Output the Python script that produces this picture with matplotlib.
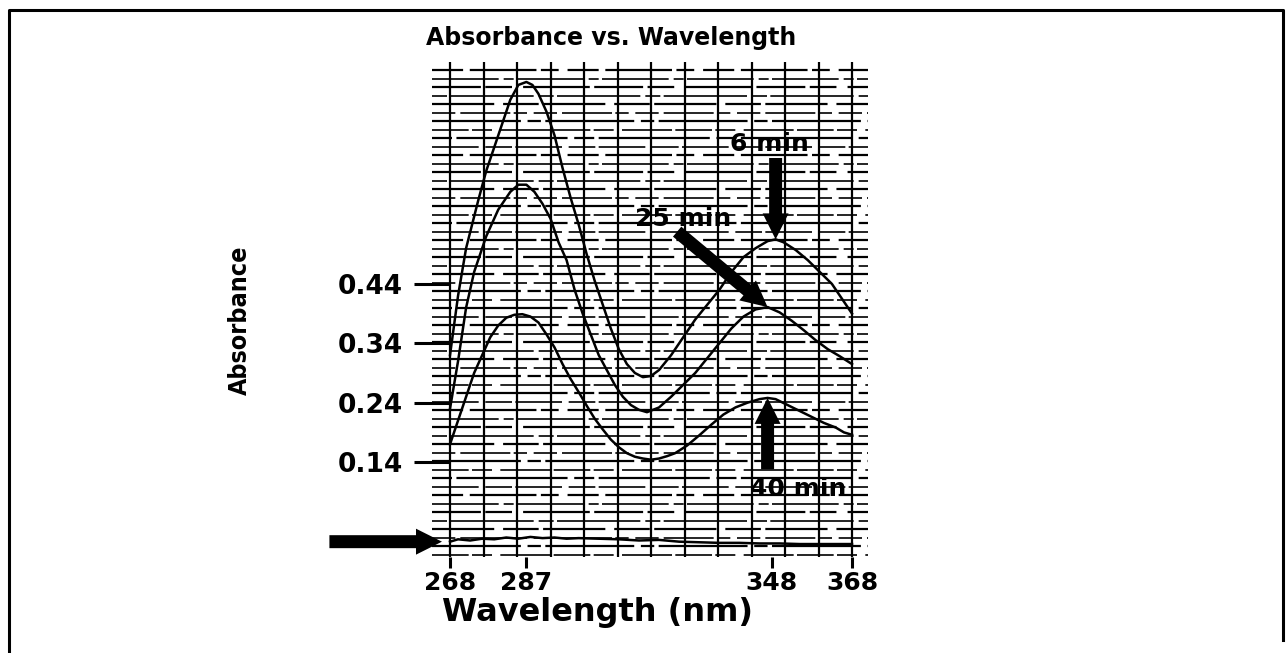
import matplotlib
matplotlib.use("Agg")
import matplotlib.pyplot as plt
from matplotlib.lines import Line2D

# ---------------- data ----------------
wl_6 = [268, 270, 272, 275, 277, 280, 283, 285, 287, 288.5, 290, 292, 294, 296, 298, 300,
        302, 304, 306, 308, 310, 312, 314, 316, 318, 320, 323, 326, 329, 332, 335, 338,
        341, 344, 347, 349, 351, 354, 357, 360, 363, 366, 368]
abs_6 = [0.32, 0.42, 0.50, 0.58, 0.63, 0.69, 0.75, 0.775, 0.78, 0.775, 0.76, 0.73, 0.69,
         0.635, 0.585, 0.54, 0.49, 0.445, 0.405, 0.365, 0.33, 0.305, 0.29, 0.283, 0.285, 0.295,
         0.32, 0.35, 0.38, 0.405, 0.43, 0.46, 0.485, 0.50, 0.512, 0.515, 0.51, 0.497,
         0.48, 0.46, 0.44, 0.41, 0.39]

wl_25 = [268, 270, 272, 274, 277, 280, 283, 285, 287, 289, 291, 293, 295, 297, 299, 301,
         303, 305, 307, 309, 311, 313, 315, 317, 320, 323, 326, 329, 332, 335, 338, 341,
         344, 347, 350, 353, 356, 359, 362, 365, 368]
abs_25 = [0.23, 0.31, 0.40, 0.46, 0.52, 0.565, 0.595, 0.607, 0.607, 0.595, 0.575, 0.55,
          0.51, 0.48, 0.43, 0.39, 0.355, 0.32, 0.295, 0.27, 0.25, 0.236, 0.228, 0.224,
          0.232, 0.25, 0.27, 0.29, 0.315, 0.34, 0.365, 0.385, 0.397, 0.401, 0.392, 0.378,
          0.362, 0.345, 0.33, 0.318, 0.305]

wl_40 = [268, 270, 272, 274, 276, 278, 280, 282, 284, 286, 288, 290, 292, 294, 296, 298,
         300, 302, 304, 306, 308, 310, 312, 314, 316, 318, 320, 322, 324, 327, 330, 333,
         336, 339, 342, 345, 347, 349, 352, 355, 358, 361, 364, 366, 368]
abs_40 = [0.17, 0.21, 0.25, 0.29, 0.32, 0.35, 0.37, 0.383, 0.388, 0.389, 0.385, 0.375,
          0.355, 0.333, 0.305, 0.28, 0.258, 0.235, 0.213, 0.195, 0.178, 0.165, 0.155,
          0.149, 0.146, 0.144, 0.146, 0.15, 0.155, 0.168, 0.185, 0.203, 0.22, 0.232, 0.24,
          0.246, 0.248, 0.246, 0.236, 0.226, 0.216, 0.206, 0.198, 0.19, 0.186]

wl_0 = [268, 270, 273, 276, 279, 282, 285, 288, 291, 294, 297, 300, 305, 310, 315, 320,
        325, 330, 335, 340, 345, 350, 355, 360, 365, 368]
abs_0 = [0.006, 0.010, 0.008, 0.011, 0.010, 0.013, 0.011, 0.014, 0.012, 0.013, 0.011,
         0.012, 0.011, 0.010, 0.008, 0.009, 0.006, 0.005, 0.004, 0.004, 0.003, 0.003,
         0.002, 0.002, 0.002, 0.002]

x_ticks = [268, 287, 348, 368]
x_tick_labels = ["268", "287", "348", "368"]
y_ticks = [0.14, 0.24, 0.34, 0.44]
y_tick_labels = ["0.14", "0.24", "0.34", "0.44"]

labels = ["6 min", "25 min", "40 min"]

# ---------------- figure ----------------
W, H = 1288, 653
fig = plt.figure(figsize=(W / 100, H / 100), dpi=100)
fig.patch.set_facecolor("white")

# page frame (left, top, right)
fx0, fx1 = 9 / W, 1283 / W
fy1 = 1 - 10 / H
fig.add_artist(Line2D([fx0, fx0, fx1, fx1], [0.0, fy1, fy1, 0.02],
                      color="black", lw=2.2, transform=fig.transFigure))

ax = fig.add_axes([432 / W, 1 - 557 / H, 436 / W, 495 / H])
ax.set_xlim(263.52, 371.98)
ax.set_ylim(-0.0198, 0.8136)
for s in ax.spines.values():
    s.set_visible(False)

# chart-paper grid
dash_patterns = [(0, (14, 3, 30, 2, 8, 4)), (0, (40, 3, 6, 2)), (0, (22, 2, 12, 5, 30, 2)),
                 (0, (9, 2, 50, 3)), (0, (28, 4, 16, 2))]
ny = 58
for i in range(ny):
    yv = 0.800 - i * (0.8164 / (ny - 1))
    ax.axhline(yv, color="black", lw=1.6 if i % 2 == 0 else 1.2,
               linestyle=dash_patterns[i % len(dash_patterns)], zorder=1)
for k in range(13):
    ax.axvline(268 + k * 100 / 12, color="black", lw=1.6, zorder=1)

# curves
ax.plot(wl_6, abs_6, color="black", lw=1.8, zorder=3)
ax.plot(wl_25, abs_25, color="black", lw=1.8, zorder=3)
ax.plot(wl_40, abs_40, color="black", lw=1.8, zorder=3)
ax.plot(wl_0, abs_0, color="black", lw=1.8, zorder=3)

# ticks
ax.set_xticks(x_ticks)
ax.set_xticklabels(x_tick_labels, fontsize=18, fontweight="bold")
ax.set_yticks(y_ticks)
ax.set_yticklabels(y_tick_labels, fontsize=19, fontweight="bold")
ax.tick_params(axis="y", direction="inout", length=26, width=2.2, pad=8)
ax.tick_params(axis="x", direction="out", length=8, width=2.2, pad=2)

# annotations
arrow = dict(arrowstyle="simple,head_length=1.1,head_width=1.1,tail_width=0.55",
             mutation_scale=17, color="black", lw=0, shrinkA=0, shrinkB=0)
i6 = abs_6.index(max(abs_6[25:]))
ax.annotate("", xy=(wl_6[i6], abs_6[i6]), xytext=(wl_6[i6], 0.652), arrowprops=arrow, zorder=5)
ax.text(347.5, 0.676, labels[0], fontsize=18, fontweight="bold", ha="center", va="center", zorder=5)

i25 = abs_25.index(max(abs_25[20:]))
ax.annotate("", xy=(wl_25[i25], abs_25[i25]), xytext=(324.5, 0.528), arrowprops=arrow, zorder=5)
ax.text(326.0, 0.550, labels[1], fontsize=18, fontweight="bold", ha="center", va="center", zorder=5)

i40 = abs_40.index(max(abs_40[25:]))
ax.annotate("", xy=(wl_40[i40], abs_40[i40]), xytext=(wl_40[i40], 0.128), arrowprops=arrow, zorder=5)
ax.text(354.5, 0.094, labels[2], fontsize=18, fontweight="bold", ha="center", va="center", zorder=5)

ax.annotate("", xy=(266.0, abs_0[0]), xytext=(238.0, abs_0[0]), arrowprops=arrow,
            annotation_clip=False, zorder=5)

# titles
fig.text(611 / W, 1 - 38 / H, "Absorbance vs. Wavelength", fontsize=17, fontweight="bold",
         ha="center", va="center")
fig.text(598 / W, 1 - 612 / H, "Wavelength (nm)", fontsize=23, fontweight="bold",
         ha="center", va="center")
fig.text(240 / W, 1 - 320 / H, "Absorbance", fontsize=18, fontweight="bold", rotation=90,
         ha="center", va="center", stretch="condensed",
         family=["DejaVu Sans Condensed", "DejaVu Sans"])

fig.savefig("out.png", dpi=100)
